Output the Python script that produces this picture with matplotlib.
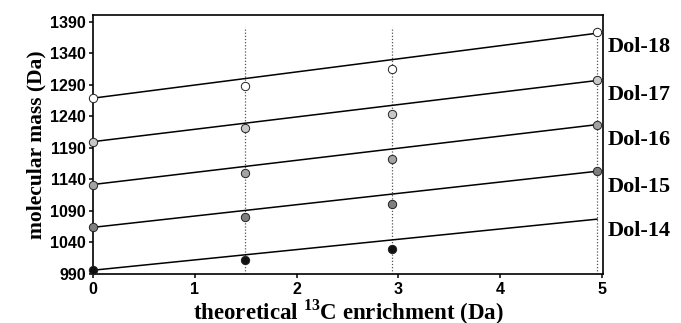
import numpy as np
import matplotlib
matplotlib.use("Agg")
from matplotlib import pyplot as plt

plt.rcParams['mathtext.fontset'] = 'custom'
plt.rcParams['mathtext.rm'] = 'Liberation Serif:bold'
plt.rcParams['mathtext.bf'] = 'Liberation Serif:bold'

# data
enrichment = [0, 1.49, 2.94, 4.95]
series = ['Dol-14', 'Dol-15', 'Dol-16', 'Dol-17', 'Dol-18']
measured = {
    'Dol-14': [996, 1012, 1030],
    'Dol-15': [1064, 1081, 1101, 1153],
    'Dol-16': [1132, 1151, 1172, 1227],
    'Dol-17': [1200, 1221, 1244, 1298],
    'Dol-18': [1269, 1289, 1315, 1374],
}
line_start = [996, 1064, 1132, 1200, 1269]
line_end = [1077, 1153, 1227, 1297, 1372]
label_y = [1058, 1128, 1203, 1274, 1350]
face = ['#111111', '#7f7f7f', '#a3a3a3', '#c8c8c8', 'white']

fig = plt.figure(figsize=(6.81, 3.23), dpi=100)
ax = fig.add_axes([0.1366, 0.1517, 0.749, 0.802])

ax.vlines(enrichment[1:], 990, 1382, colors='#555555', linestyles=(0, (1, 1.5)), lw=0.9, zorder=1)

for i, name in enumerate(series):
    ax.plot([enrichment[0], enrichment[-1]], [line_start[i], line_end[i]], color='black', lw=1.1, zorder=2)
    ys = measured[name]
    ax.plot(enrichment[:len(ys)], ys, 'o', ms=6, mfc=face[i], mec='#222222', mew=0.7,
            clip_on=False, zorder=3)
    ax.text(5.05, label_y[i], name, fontsize=16, fontweight='bold', family='Liberation Serif',
            va='center', ha='left')

ax.set_xlim(0, 5.01)
ax.set_ylim(990, 1401)
ax.set_xticks([0, 1, 2, 3, 4, 5])
ax.set_yticks(np.arange(990, 1391, 50))
for lab in ax.get_xticklabels() + ax.get_yticklabels():
    lab.set_fontweight('bold')
    lab.set_family('Liberation Sans')
    lab.set_fontsize(11.5)
ax.tick_params(direction='out', length=3, width=1.1, pad=2)
ax.tick_params(axis='x', pad=3)
for s in ax.spines.values():
    s.set_linewidth(1.2)

ax.set_xlabel('theoretical $^{13}$C enrichment (Da)', fontsize=16.5, fontweight='bold',
              family='Liberation Serif', va='baseline')
ax.xaxis.set_label_coords(0.5, -0.175)
ax.set_ylabel('molecular mass (Da)', fontsize=15.5, fontweight='bold',
              family='Liberation Serif', labelpad=3)

fig.savefig('out.png', dpi=100)
